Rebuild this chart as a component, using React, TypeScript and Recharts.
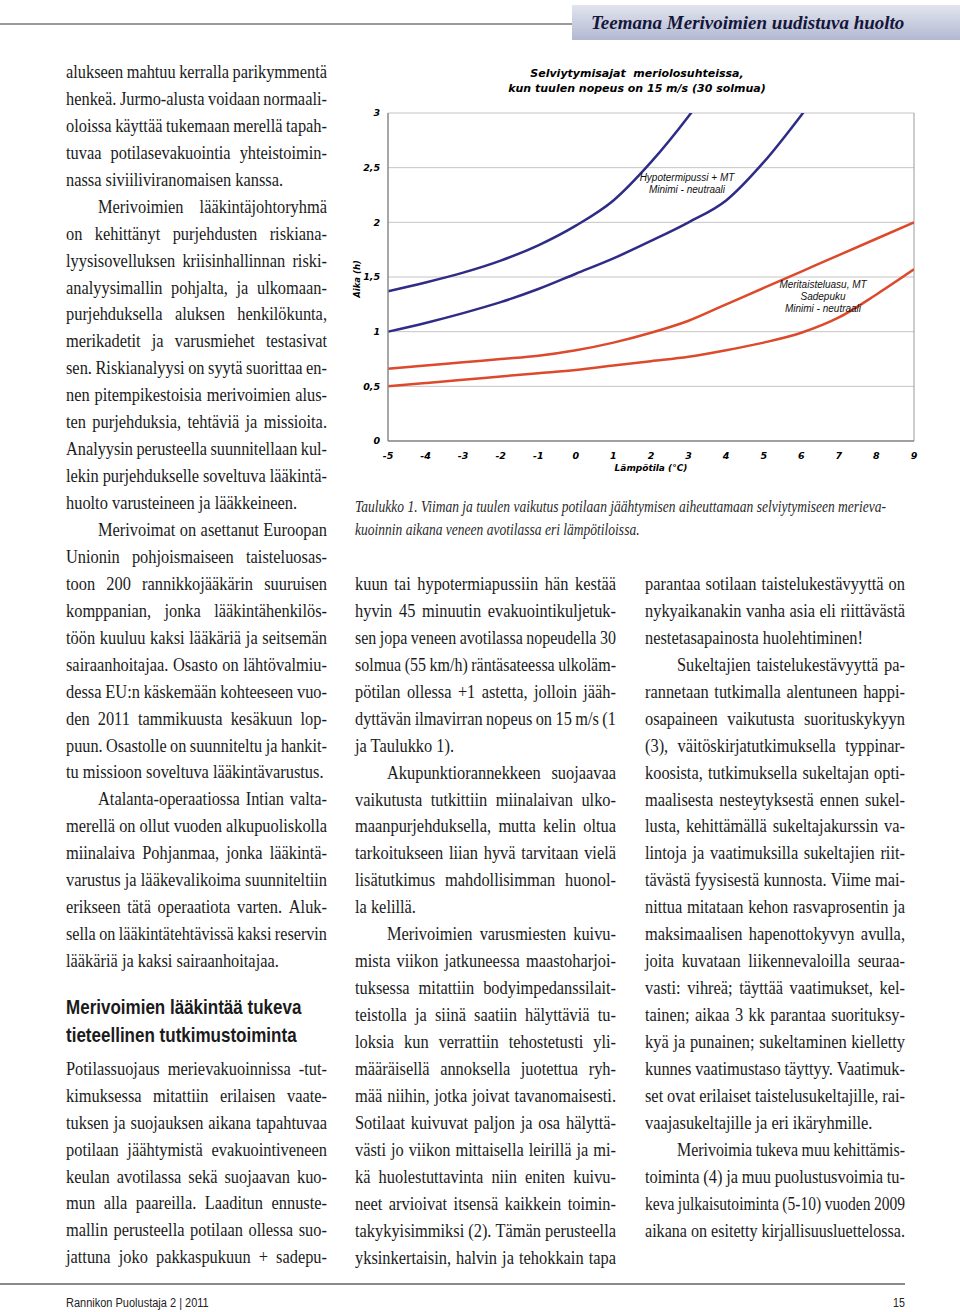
import React from 'react';
import { LineChart, Line, XAxis, YAxis, CartesianGrid, ReferenceLine } from 'recharts';

// temperatures (°C) on the x axis
const temps = [-5, -4, -3, -2, -1, 0, 1, 2, 3, 4, 5, 6, 7, 8, 9];
// survival time (h); values past 3 run off the top of the plot
const hypoUpper = [1.37, 1.45, 1.54, 1.65, 1.79, 1.97, 2.2, 2.55, 2.97, 3.45, null, null, null, null, null];
const hypoLower = [1.0, 1.08, 1.17, 1.27, 1.39, 1.53, 1.67, 1.83, 2.0, 2.2, 2.55, 2.98, 3.45, null, null];
const suitUpper = [0.66, 0.69, 0.72, 0.75, 0.78, 0.83, 0.9, 0.99, 1.1, 1.25, 1.4, 1.55, 1.7, 1.85, 2.0];
const suitLower = [0.5, 0.53, 0.56, 0.59, 0.62, 0.65, 0.69, 0.73, 0.77, 0.83, 0.9, 0.99, 1.13, 1.34, 1.57];
const yTicks = [0, 0.5, 1, 1.5, 2, 2.5, 3];

const chartData = temps.map((t, i) => ({
  t,
  hypoUpper: hypoUpper[i],
  hypoLower: hypoLower[i],
  suitUpper: suitUpper[i],
  suitLower: suitLower[i],
}));

type Para = { indent?: boolean; end?: boolean; lines: string[] };

const col1: Para[] = [
  {
    end: true,
    lines: [
      'alukseen mahtuu kerralla parikymmentä',
      'henkeä. Jurmo-alusta voidaan normaali-',
      'oloissa käyttää tukemaan merellä tapah-',
      'tuvaa potilasevakuointia yhteistoimin-',
      'nassa siviiliviranomaisen kanssa.',
    ],
  },
  {
    indent: true,
    end: true,
    lines: [
      'Merivoimien lääkintäjohtoryhmä',
      'on kehittänyt purjehdusten riskiana-',
      'lyysisovelluksen kriisinhallinnan riski-',
      'analyysimallin pohjalta, ja ulkomaan-',
      'purjehduksella aluksen henkilökunta,',
      'merikadetit ja varusmiehet testasivat',
      'sen. Riskianalyysi on syytä suorittaa en-',
      'nen pitempikestoisia merivoimien alus-',
      'ten purjehduksia, tehtäviä ja missioita.',
      'Analyysin perusteella suunnitellaan kul-',
      'lekin purjehdukselle soveltuva lääkintä-',
      'huolto varusteineen ja lääkkeineen.',
    ],
  },
  {
    indent: true,
    end: true,
    lines: [
      'Merivoimat on asettanut Euroopan',
      'Unionin pohjoismaiseen taisteluosas-',
      'toon 200 rannikkojääkärin suuruisen',
      'komppanian, jonka lääkintähenkilös-',
      'töön kuuluu kaksi lääkäriä ja seitsemän',
      'sairaanhoitajaa. Osasto on lähtövalmiu-',
      'dessa EU:n käskemään kohteeseen vuo-',
      'den 2011 tammikuusta kesäkuun lop-',
      'puun. Osastolle on suunniteltu ja hankit-',
      'tu missioon soveltuva lääkintävarustus.',
    ],
  },
  {
    indent: true,
    end: true,
    lines: [
      'Atalanta-operaatiossa Intian valta-',
      'merellä on ollut vuoden alkupuoliskolla',
      'miinalaiva Pohjanmaa, jonka lääkintä-',
      'varustus ja lääkevalikoima suunniteltiin',
      'erikseen tätä operaatiota varten. Aluk-',
      'sella on lääkintätehtävissä kaksi reservin',
      'lääkäriä ja kaksi sairaanhoitajaa.',
    ],
  },
];

const col1b: Para[] = [
  {
    lines: [
      'Potilassuojaus merievakuoinnissa -tut-',
      'kimuksessa mitattiin erilaisen vaate-',
      'tuksen ja suojauksen aikana tapahtuvaa',
      'potilaan jäähtymistä evakuointiveneen',
      'keulan avotilassa sekä suojaavan kuo-',
      'mun alla paareilla. Laaditun ennuste-',
      'mallin perusteella potilaan ollessa suo-',
      'jattuna joko pakkaspukuun + sadepu-',
    ],
  },
];

const col2: Para[] = [
  {
    end: true,
    lines: [
      'kuun tai hypotermiapussiin hän kestää',
      'hyvin 45 minuutin evakuointikuljetuk-',
      'sen jopa veneen avotilassa nopeudella 30',
      'solmua (55 km/h) räntäsateessa ulkoläm-',
      'pötilan ollessa +1 astetta, jolloin jääh-',
      'dyttävän ilmavirran nopeus on 15 m/s (1',
      'ja Taulukko 1).',
    ],
  },
  {
    indent: true,
    end: true,
    lines: [
      'Akupunktiorannekkeen suojaavaa',
      'vaikutusta tutkittiin miinalaivan ulko-',
      'maanpurjehduksella, mutta kelin oltua',
      'tarkoitukseen liian hyvä tarvitaan vielä',
      'lisätutkimus mahdollisimman huonol-',
      'la kelillä.',
    ],
  },
  {
    indent: true,
    lines: [
      'Merivoimien varusmiesten kuivu-',
      'mista viikon jatkuneessa maastoharjoi-',
      'tuksessa mitattiin bodyimpedanssilait-',
      'teistolla ja siinä saatiin hälyttäviä tu-',
      'loksia kun verrattiin tehostetusti yli-',
      'määräisellä annoksella juotettua ryh-',
      'mää niihin, jotka joivat tavanomaisesti.',
      'Sotilaat kuivuvat paljon ja osa hälyttä-',
      'västi jo viikon mittaisella leirillä ja mi-',
      'kä huolestuttavinta niin eniten kuivu-',
      'neet arvioivat itsensä kaikkein toimin-',
      'takykyisimmiksi (2). Tämän perusteella',
      'yksinkertaisin, halvin ja tehokkain tapa',
    ],
  },
];

const col3: Para[] = [
  {
    end: true,
    lines: [
      'parantaa sotilaan taistelukestävyyttä on',
      'nykyaikanakin vanha asia eli riittävästä',
      'nestetasapainosta huolehtiminen!',
    ],
  },
  {
    indent: true,
    end: true,
    lines: [
      'Sukeltajien taistelukestävyyttä pa-',
      'rannetaan tutkimalla alentuneen happi-',
      'osapaineen vaikutusta suorituskykyyn',
      '(3), väitöskirjatutkimuksella typpinar-',
      'koosista, tutkimuksella sukeltajan opti-',
      'maalisesta nesteytyksestä ennen sukel-',
      'lusta, kehittämällä sukeltajakurssin va-',
      'lintoja ja vaatimuksilla sukeltajien riit-',
      'tävästä fyysisestä kunnosta. Viime mai-',
      'nittua mitataan kehon rasvaprosentin ja',
      'maksimaalisen hapenottokyvyn avulla,',
      'joita kuvataan liikennevaloilla seuraa-',
      'vasti: vihreä; täyttää vaatimukset, kel-',
      'tainen; aikaa 3 kk parantaa suorituksy-',
      'kyä ja punainen; sukeltaminen kielletty',
      'kunnes vaatimustaso täyttyy. Vaatimuk-',
      'set ovat erilaiset taistelusukeltajille, rai-',
      'vaajasukeltajille ja eri ikäryhmille.',
    ],
  },
  {
    indent: true,
    end: true,
    lines: [
      'Merivoimia tukeva muu kehittämis-',
      'toiminta (4) ja muu puolustusvoimia tu-',
      'keva julkaisutoiminta (5-10) vuoden 2009',
      'aikana on esitetty kirjallisuusluettelossa.',
    ],
  },
];

const LH = 26.94;
const SCALE = 0.91;
const INDENT = 32;
const MIN_GAP = 3.5;
const BODY_FONT = '18px "Liberation Serif"';

let measureCtx: CanvasRenderingContext2D | null = null;
function measure(s: string): number {
  if (!measureCtx) {
    measureCtx = document.createElement('canvas').getContext('2d');
    if (measureCtx) measureCtx.font = BODY_FONT;
  }
  return measureCtx ? measureCtx.measureText(s).width : s.length * 8;
}

function TextLine({ text, x, y, w, justify }: { text: string; x: number; y: number; w: number; justify: boolean }) {
  const words = text.split(' ');
  let s = SCALE;
  if (justify) {
    const sum = words.reduce((a, wd) => a + measure(wd), 0);
    s = Math.min(SCALE, (w - (words.length - 1) * MIN_GAP) / sum);
  } else {
    s = Math.min(SCALE, w / measure(text));
  }
  return (
    <div
      style={{
        position: 'absolute',
        left: x,
        top: y - 15,
        width: w / s,
        height: 27,
        transform: `scaleX(${s})`,
        transformOrigin: 'left top',
        display: 'flex',
        justifyContent: justify ? 'space-between' : 'flex-start',
        whiteSpace: 'pre',
        fontFamily: '"Liberation Serif", serif',
        fontSize: 18,
        lineHeight: '27px',
        color: '#1b1b1b',
      }}
    >
      {justify ? words.map((wd, i) => <span key={i}>{wd}</span>) : <span>{text}</span>}
    </div>
  );
}

function Column({ paras, x, y0, w }: { paras: Para[]; x: number; y0: number; w: number }) {
  const out: React.ReactNode[] = [];
  let slot = 0;
  paras.forEach((p, pi) => {
    p.lines.forEach((ln, li) => {
      const ind = p.indent && li === 0 ? INDENT : 0;
      const isLast = li === p.lines.length - 1 && p.end;
      out.push(
        <TextLine key={`${pi}-${li}`} text={ln} x={x + ind} y={y0 + slot * LH} w={w - ind} justify={!isLast} />
      );
      slot++;
    });
  });
  return <>{out}</>;
}

const tickFmt = (v: number) => String(v).replace('.', ',');
const tickStyle = {
  fontSize: 9.5,
  fontWeight: 'bold' as const,
  fontStyle: 'italic' as const,
  fill: '#000',
  fontFamily: '"DejaVu Sans", sans-serif',
};
const noteStyle: React.CSSProperties = {
  position: 'absolute',
  fontFamily: '"Liberation Sans", Arial, sans-serif',
  fontStyle: 'italic',
  fontSize: 10,
  lineHeight: '12px',
  textAlign: 'center',
  color: '#111',
  width: 160,
};
const axisLabel: React.CSSProperties = {
  position: 'absolute',
  fontFamily: '"DejaVu Sans", sans-serif',
  fontWeight: 'bold',
  fontStyle: 'italic',
  fontSize: 8.5,
  whiteSpace: 'nowrap',
  color: '#000',
};

export default function App() {
  return (
    <div style={{ position: 'absolute', left: 0, top: 0, width: 960, height: 1312, background: '#fff', overflow: 'hidden' }}>
      {/* header */}
      <div style={{ position: 'absolute', left: 0, top: 23, width: 572, height: 2, background: '#9a9a9a' }} />
      <div
        style={{
          position: 'absolute',
          left: 572,
          top: 5,
          width: 388,
          height: 35,
          background: 'linear-gradient(to bottom, #e2e5ee, #b2b8d1)',
          fontFamily: '"Liberation Serif", serif',
          fontWeight: 'bold',
          fontStyle: 'italic',
          fontSize: 19,
          lineHeight: '35px',
          color: '#15163a',
          paddingLeft: 19,
          boxSizing: 'border-box',
        }}
      >
        Teemana Merivoimien uudistuva huolto
      </div>

      {/* chart */}
      <div
        style={{
          position: 'absolute',
          left: 340,
          top: 66,
          width: 600,
          textAlign: 'center',
          fontFamily: '"DejaVu Sans", sans-serif',
          fontWeight: 'bold',
          fontStyle: 'italic',
          fontSize: 11,
          lineHeight: '15px',
          color: '#000',
        }}
      >
        <div style={{ marginLeft: -6 }}>Selviytymisajat&nbsp; meriolosuhteissa,</div>
        <div style={{ marginLeft: -6 }}>kun tuulen nopeus on 15 m/s (30 solmua)</div>
      </div>
      <div style={{ position: 'absolute', left: 340, top: 55 }}>
        <LineChart width={600} height={430} data={chartData} margin={{ top: 58, right: 26, bottom: 0, left: 18 }}>
          <CartesianGrid vertical={false} stroke="#c4c4c4" strokeWidth={1} />
          <XAxis
            dataKey="t"
            type="number"
            domain={[-5, 9]}
            ticks={temps}
            allowDataOverflow
            height={44}
            tickLine={false}
            tickMargin={5}
            tick={tickStyle}
            stroke="#8a8a8a"
            strokeWidth={1.5}
            interval={0}
          />
          <YAxis
            type="number"
            domain={[0, 3]}
            ticks={yTicks}
            allowDataOverflow
            width={30}
            tickLine={false}
            tick={tickStyle}
            tickFormatter={tickFmt}
            stroke="#8a8a8a"
            strokeWidth={1.5}
          />
          <ReferenceLine x={9} stroke="#9a9a9a" strokeWidth={1} />
          <Line dataKey="hypoUpper" type="monotone" stroke="#2e2c86" strokeWidth={2.5} dot={false} isAnimationActive={false} />
          <Line dataKey="hypoLower" type="monotone" stroke="#2e2c86" strokeWidth={2.5} dot={false} isAnimationActive={false} />
          <Line dataKey="suitUpper" type="monotone" stroke="#dc4a2b" strokeWidth={2.5} dot={false} isAnimationActive={false} />
          <Line dataKey="suitLower" type="monotone" stroke="#dc4a2b" strokeWidth={2.5} dot={false} isAnimationActive={false} />
        </LineChart>
      </div>
      <div style={{ ...noteStyle, left: 607, top: 172 }}>
        Hypotermipussi + MT
        <br />
        Minimi - neutraali
      </div>
      <div style={{ ...noteStyle, left: 743, top: 279 }}>
        Meritaisteluasu, MT
        <br />
        Sadepuku
        <br />
        Minimi - neutraali
      </div>
      <div style={{ ...axisLabel, left: 357, top: 279, transform: 'translate(-50%, -50%) rotate(-90deg)' }}>
        Aika (h)
      </div>
      <div style={{ ...axisLabel, left: 551, top: 463, width: 200, textAlign: 'center', fontSize: 9 }}>
        Lämpötila (°C)
      </div>

      {/* caption */}
      {[
        'Taulukko 1. Viiman ja tuulen vaikutus potilaan jäähtymisen aiheuttamaan selviytymiseen merieva-',
        'kuoinnin aikana veneen avotilassa eri lämpötiloissa.',
      ].map((c, i) => (
        <div
          key={i}
          style={{
            position: 'absolute',
            left: 355,
            top: 496 + i * 23,
            transform: 'scaleX(0.795)',
            transformOrigin: 'left top',
            whiteSpace: 'nowrap',
            fontFamily: '"Liberation Serif", serif',
            fontStyle: 'italic',
            fontSize: 17,
            lineHeight: '22px',
            color: '#2a2a2a',
          }}
        >
          {c}
        </div>
      ))}

      {/* body text */}
      <Column paras={col1} x={66} y0={74} w={261} />
      {['Merivoimien lääkintää tukeva', 'tieteellinen tutkimustoiminta'].map((h, i) => (
        <div
          key={i}
          style={{
            position: 'absolute',
            left: 66,
            top: 994 + i * 28,
            transform: 'scaleX(0.81)',
            transformOrigin: 'left top',
            whiteSpace: 'nowrap',
            fontFamily: '"Liberation Sans", sans-serif',
            fontWeight: 'bold',
            fontSize: 21,
            lineHeight: '26px',
            color: '#1b1b1b',
          }}
        >
          {h}
        </div>
      ))}
      <Column paras={col1b} x={66} y0={74 + 37 * LH} w={261} />
      <Column paras={col2} x={355} y0={586} w={261} />
      <Column paras={col3} x={645} y0={586} w={260} />

      {/* footer */}
      <div style={{ position: 'absolute', left: 0, top: 1283, width: 905, height: 1.5, background: '#8a8a8a' }} />
      <div
        style={{
          position: 'absolute',
          left: 66,
          top: 1295,
          transform: 'scaleX(0.88)',
          transformOrigin: 'left top',
          whiteSpace: 'nowrap',
          fontFamily: '"Liberation Sans", sans-serif',
          fontSize: 12.5,
          lineHeight: '16px',
          color: '#222',
        }}
      >
        Rannikon Puolustaja 2 | 2011
      </div>
      <div
        style={{
          position: 'absolute',
          right: 55,
          top: 1295,
          fontFamily: '"Liberation Sans", sans-serif',
          fontSize: 12.5,
          lineHeight: '16px',
          color: '#222',
          transform: 'scaleX(0.85)',
          transformOrigin: 'right top',
        }}
      >
        15
      </div>
    </div>
  );
}
